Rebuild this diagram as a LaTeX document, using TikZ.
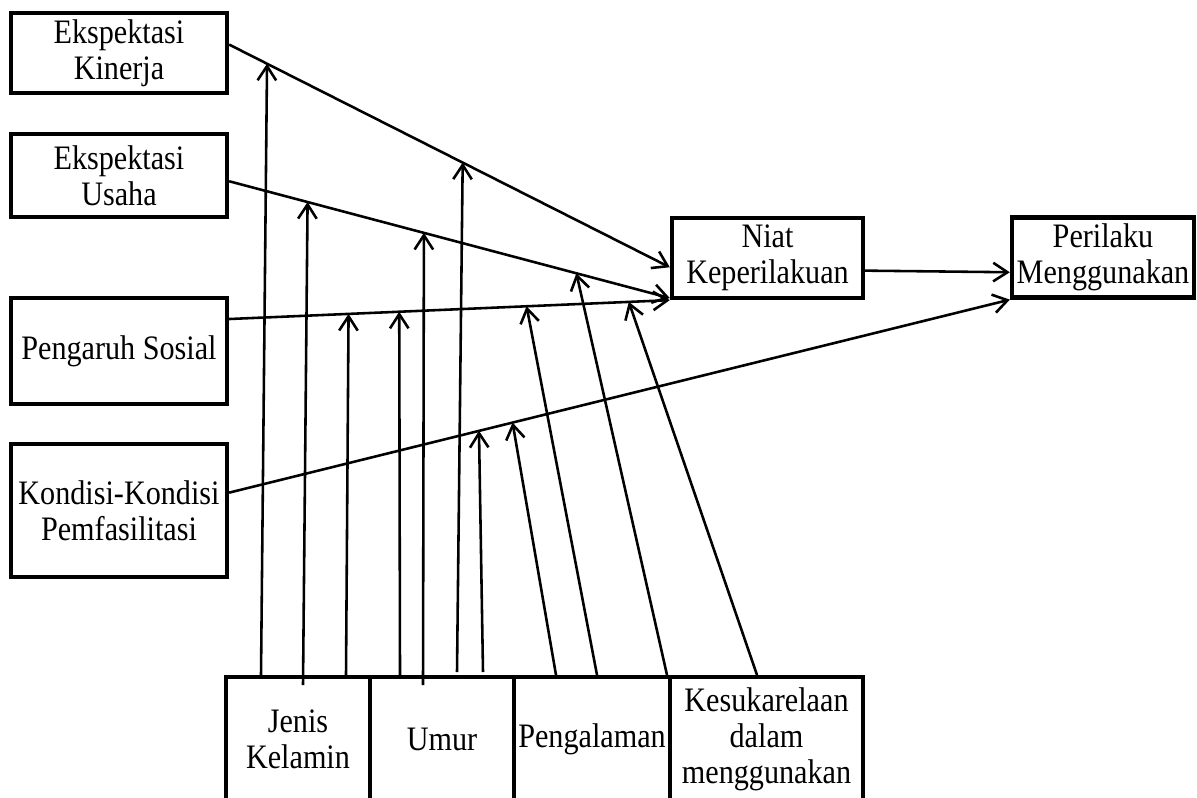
\documentclass[tikz,border=0pt]{standalone}
\usepackage{fontspec}
\setmainfont{Liberation Serif}[FakeStretch=0.88]
\usepackage{tikz}
\usetikzlibrary{calc,arrows.meta}
\tikzset{>={Straight Barb[length=5pt,width=6.5pt]}}
\tikzset{
  box/.style={draw, line width=1.5pt, align=center, inner sep=0pt,
    font=\fontsize{12pt}{12.5pt}\selectfont},
}

\begin{document}
\begin{tikzpicture}[x=0.35pt, y=-0.35pt, line width=0.9pt]
                \clip (0,0) rectangle (1197,798);

                \node[box, minimum width=75.6pt, minimum height=28pt] (kin) at (119,53) {Ekspektasi\\Kinerja};
                \node[box, minimum width=75.6pt, minimum height=29pt] (usa) at (119,175.5) {Ekspektasi\\Usaha};
                \node[box, minimum width=75.6pt, minimum height=37.1pt] (sos) at (119,351) {Pengaruh Sosial};
                \node[box, minimum width=75.6pt, minimum height=46.6pt] (kon) at (119,510.5) {Kondisi-Kondisi\\Pemfasilitasi};

                \node[box, minimum width=66.9pt, minimum height=28pt] (niat) at (767.5,258) {Niat\\Keperilakuan};
                \node[box, minimum width=63.7pt, minimum height=28pt] (per) at (1103,257.5) {Perilaku\\Menggunakan};

                \node[box, minimum width=50.4pt, minimum height=43.75pt] (jk) at (298,739.5) {Jenis\\Kelamin};
                \node[box, minimum width=50.4pt, minimum height=43.75pt] (um) at (442,739.5) {Umur};
                \node[box, minimum width=54.6pt, minimum height=43.75pt] (pg) at (592,739.5) {Pengalaman};
                \node[box, minimum width=67.6pt, minimum height=43.75pt] (ks) at (766.5,739.5) {Kesukarelaan\\dalam\\menggunakan};

                \draw[->] ($(kin.north east)!0.4!(kin.south east)$) -- ($(niat.north west)!0.61!(niat.south west)$)
                    coordinate[pos=0.086] (k1) coordinate[pos=0.53] (k2);
                \draw[->] ($(usa.north east)!0.566!(usa.south east)$) -- ($(niat.north west)!0.975!(niat.south west)$)
                    coordinate[pos=0.178] (u1) coordinate[pos=0.442] (u2) coordinate[pos=0.788] (u3);
                \draw[->] ($(sos.north east)!0.21!(sos.south east)$) -- (niat.south west)
                    coordinate[pos=0.271] (p1) coordinate[pos=0.386] (p2) coordinate[pos=0.675] (p3) coordinate[pos=0.907] (p4);
                \draw[->] ($(kon.north east)!0.37!(kon.south east)$) -- (per.south west)
                    coordinate[pos=0.32] (c1) coordinate[pos=0.363] (c2);
                \draw[->] ($(niat.north east)!0.65!(niat.south east)$) -- ($(per.north west)!0.675!(per.south west)$);

                \foreach \n/\x/\y in {s1/261/675, s2/303/685, s3/346/675, s4/400/675, s5/423/685, s6/457/672,
                    s7/483/672, s8/556/675, s9/597/675, s10/667/675, s11/757/675}
                    \coordinate (\n) at (\x,\y);

                \foreach \s/\t in {s1/k1, s2/u1, s3/p1, s4/p2, s5/u2, s6/k2, s7/c1, s8/c2, s9/p3, s10/u3, s11/p4}
                {
                \draw[->] (\s) -- (\t);
                }
            \end{tikzpicture}
\end{document}
